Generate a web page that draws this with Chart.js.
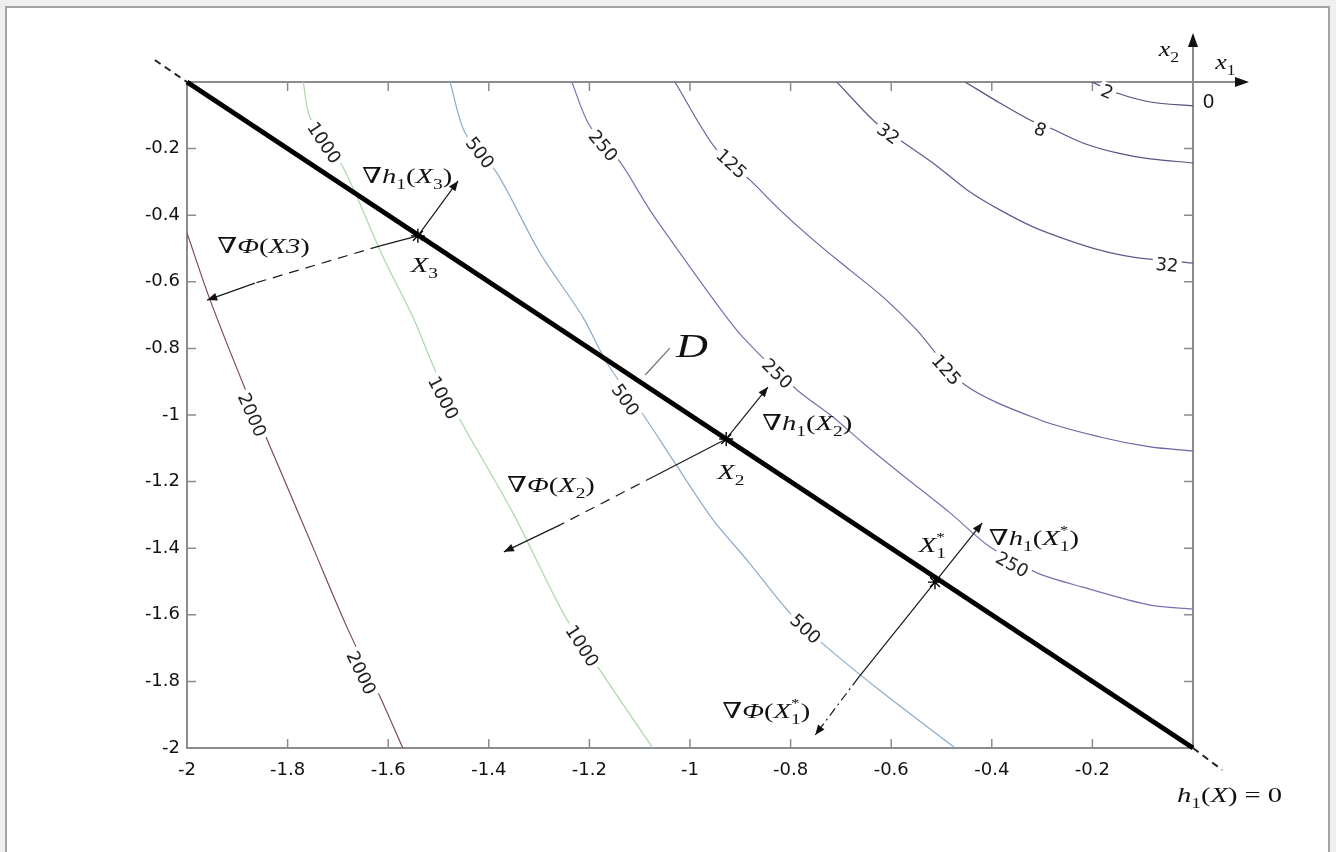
<!DOCTYPE html>
<html>
<head>
<meta charset="utf-8">
<script src="https://cdn.jsdelivr.net/npm/chart.js@4.4.1/dist/chart.umd.min.js"></script>
<style>
  html, body { margin: 0; padding: 0; background: #efefef; }
  #wrap { width: 1336px; height: 852px; }
</style>
</head>
<body>
<div id="wrap"><canvas id="chart" width="1336" height="852"></canvas></div>
<script>
// === Axis ticks ===
const XTICKS = [-2, -1.8, -1.6, -1.4, -1.2, -1, -0.8, -0.6, -0.4, -0.2];
const YTICKS = [-2, -1.8, -1.6, -1.4, -1.2, -1, -0.8, -0.6, -0.4, -0.2];

// === Contour levels and their traced paths [x1, x2] ===
const LEVELS = [2, 8, 32, 125, 250, 500, 1000, 2000];
const C2 = [[-0.201, 0], [-0.151, -0.033], [-0.085, -0.060], [0, -0.072]];
const C8 = [[-0.453, 0], [-0.384, -0.063], [-0.324, -0.114], [-0.284, -0.138], [-0.219, -0.183],
  [-0.151, -0.213], [-0.085, -0.231], [0, -0.243]];
const C32 = [[-0.708, 0], [-0.632, -0.120], [-0.577, -0.180], [-0.517, -0.243], [-0.449, -0.324],
  [-0.384, -0.384], [-0.318, -0.435], [-0.250, -0.474], [-0.185, -0.505], [-0.119, -0.526], [0, -0.544]];
const C125 = [[-1.030, 0], [-0.950, -0.198], [-0.881, -0.294], [-0.815, -0.393], [-0.748, -0.483],
  [-0.682, -0.565], [-0.616, -0.646], [-0.549, -0.745], [-0.453, -0.910], [-0.304, -1.015],
  [-0.185, -1.066], [-0.085, -1.096], [0, -1.108]];
const C250 = [[-1.235, 0], [-1.200, -0.130], [-1.139, -0.240], [-1.080, -0.384], [-1.014, -0.526],
  [-0.950, -0.660], [-0.895, -0.766], [-0.787, -0.925], [-0.716, -1.006], [-0.656, -1.084],
  [-0.583, -1.174], [-0.483, -1.294], [-0.404, -1.396], [-0.310, -1.474], [-0.219, -1.517],
  [-0.085, -1.571], [0, -1.583]];
const C500 = [[-1.477, 0], [-1.447, -0.153], [-1.384, -0.273], [-1.298, -0.514], [-1.213, -0.706],
  [-1.165, -0.844], [-1.086, -1.015], [-1.034, -1.135], [-0.954, -1.315], [-0.887, -1.435],
  [-0.801, -1.595], [-0.728, -1.697], [-0.616, -1.835], [-0.473, -2]];
const C1000 = [[-1.769, 0], [-1.755, -0.108], [-1.690, -0.255], [-1.610, -0.526], [-1.551, -0.706],
  [-1.501, -0.886], [-1.457, -1.015], [-1.352, -1.294], [-1.252, -1.595], [-1.179, -1.766], [-1.074, -2]];
const C2000 = [[-2, -0.4535], [-1.954, -0.655], [-1.881, -0.934], [-1.843, -1.066], [-1.809, -1.186],
  [-1.750, -1.396], [-1.682, -1.637], [-1.616, -1.847], [-1.571, -2]];
const CONTOURS = [C2, C8, C32, C125, C250, C500, C1000, C2000];

// contour label: [level, x1, x2]
const CLABELS = [
  [2, -0.171, -0.030], [8, -0.304, -0.144], [32, -0.606, -0.156], [32, -0.052, -0.550],
  [125, -0.918, -0.246], [125, -0.491, -0.865],
  [250, -1.173, -0.192], [250, -0.827, -0.877], [250, -0.360, -1.450],
  [500, -1.418, -0.213], [500, -1.129, -0.955], [500, -0.771, -1.643],
  [1000, -1.728, -0.183], [1000, -1.491, -0.949], [1000, -1.215, -1.694],
  [2000, -1.871, -1.0], [2000, -1.654, -1.775]
];

// === Constraint h1(X)=0, iterates and gradient vectors ===
const CONSTRAINT = [[-2, 0], [0, -2]];
const EXT_TOP = [[-2.064, 0.066], [-2, 0]];
const EXT_BOTTOM = [[0, -2], [0.058, -2.066]];
const ITERATES = [[-1.541, -0.462], [-0.928, -1.072], [-0.513, -1.502]];
const GRAD_H3 = [[-1.541, -0.462], [-1.461, -0.297]];
const GRAD_H2 = [[-0.928, -1.072], [-0.845, -0.916]];
const GRAD_H1 = [[-0.513, -1.502], [-0.419, -1.324]];
const GRAD_F3 = [[-1.541, -0.462], [-1.616, -0.492], [-1.865, -0.604], [-1.960, -0.655]];
const GRAD_F2 = [[-0.928, -1.072], [-1.070, -1.183], [-1.258, -1.330], [-1.370, -1.411]];
const GRAD_F1 = [[-0.513, -1.502], [-0.666, -1.790], [-0.751, -1.961]];
const D_LEADER = [[-1.089, -0.880], [-1.040, -0.799]];

// === Styles ===
const CONTOUR_COLORS = ['#50507c', '#555582', '#5c5c8a', '#6666a0', '#7373b0', '#8aaccb', '#a8d9a8', '#7c4a5c'];
const SANS = '"DejaVu Sans", sans-serif';
const SERIF = '"Liberation Serif", "DejaVu Serif", serif';
const AXIS_GRAY = '#8c8c8c';
const STRETCH = 1.3;

// text annotations: anchor is left/baseline in data units
const NOTES = [
  { at: [-1.652, -0.303], size: 22, t: [['∇', 'r'], ['h', 'i'], ['1', 'b'], ['(', 'r'], ['X', 'i'], ['3', 'b'], [')', 'r']] },
  { at: [-1.940, -0.514], size: 22, t: [['∇', 'r'], ['Φ', 'i'], ['(', 'r'], ['X', 'i'], ['3', 'i'], [')', 'r']] },
  { at: [-1.555, -0.571], size: 22, t: [['X', 'i'], ['3', 'b']] },
  { at: [-1.028, -0.826], size: 34, t: [['D', 'i']] },
  { at: [-0.857, -1.045], size: 22, t: [['∇', 'r'], ['h', 'i'], ['1', 'b'], ['(', 'r'], ['X', 'i'], ['2', 'b'], [')', 'r']] },
  { at: [-0.946, -1.192], size: 22, t: [['X', 'i'], ['2', 'b']] },
  { at: [-1.364, -1.231], size: 22, t: [['∇', 'r'], ['Φ', 'i'], ['(', 'r'], ['X', 'i'], ['2', 'b'], [')', 'r']] },
  { at: [-0.545, -1.411], size: 22, t: [['X', 'i'], ['1', 'b'], ['*', 'p']] },
  { at: [-0.406, -1.390], size: 22, t: [['∇', 'r'], ['h', 'i'], ['1', 'b'], ['(', 'r'], ['X', 'i'], ['1', 'b'], ['*', 'p'], [')', 'r']] },
  { at: [-0.936, -1.910], size: 22, t: [['∇', 'r'], ['Φ', 'i'], ['(', 'r'], ['X', 'i'], ['1', 'b'], ['*', 'p'], [')', 'r']] },
  { at: [-0.032, -2.162], size: 22, t: [['h', 'i'], ['1', 'b'], ['(', 'r'], ['X', 'i'], [') = 0', 'r']] },
  { at: [-0.068, 0.078], size: 20, t: [['x', 'i'], ['2', 'b']] },
  { at: [0.044, 0.039], size: 20, t: [['x', 'i'], ['1', 'b']] },
  { at: [0.020, -0.078], size: 20, t: [['0', 's']] }
];

const pts = arr => arr.map(([x, y]) => ({ x, y }));

function arrowHead(ctx, x0, y0, x1, y1, len, half) {
  const a = Math.atan2(y1 - y0, x1 - x0);
  const c = Math.cos(a), s = Math.sin(a);
  ctx.beginPath();
  ctx.moveTo(x1, y1);
  ctx.lineTo(x1 - len * c + half * s, y1 - len * s - half * c);
  ctx.lineTo(x1 - len * c - half * s, y1 - len * s + half * c);
  ctx.closePath();
  ctx.fill();
}

function drawMath(ctx, tokens, x, y, size) {
  ctx.save();
  ctx.translate(x, y);
  ctx.textBaseline = 'alphabetic';
  ctx.textAlign = 'left';
  let cx = 0, subX = null, subEnd = 0;
  tokens.forEach(([t, k]) => {
    let fs = size, dy = 0, style = '', fam = SERIF, x0 = cx, sx = STRETCH;
    if (k === 'i') style = 'italic ';
    if (k === 'b') { fs = size * 0.68; dy = size * 0.28; }
    if (k === 'p') { fs = size * 0.6; dy = -size * 0.5; if (subX !== null) x0 = subX; }
    if (k === 's') { fam = '"Liberation Sans", sans-serif'; sx = 1; }
    ctx.font = style + fs + 'px ' + fam;
    ctx.save();
    ctx.translate(x0, dy);
    ctx.scale(sx, 1);
    ctx.fillText(t, 0, 0);
    ctx.restore();
    const w = ctx.measureText(t).width * sx;
    if (k === 'b') { subX = cx; subEnd = cx + w; cx += w; }
    else if (k === 'p') { cx = Math.max(subEnd, x0 + w); subX = null; }
    else { cx += w; subX = null; }
  });
  ctx.restore();
}

// === Datasets: top-most first ===
const arrowLine = (data, dash) => ({
  data: pts(data), borderColor: '#1a1a1a', borderWidth: 1.2, pointRadius: 0, arrow: true,
  segment: dash ? { borderDash: c => (c.p0DataIndex === 1 ? dash : undefined) } : undefined
});

const datasets = [
  { data: pts(ITERATES), showLine: false, pointStyle: 'star', pointRadius: 7,
    pointBorderWidth: 1.4, pointBorderColor: '#000', pointBackgroundColor: '#000' },
  arrowLine(GRAD_H3), arrowLine(GRAD_H2), arrowLine(GRAD_H1),
  arrowLine(GRAD_F3, [10, 7]), arrowLine(GRAD_F2, [10, 7]), arrowLine(GRAD_F1, [9, 4, 2, 4]),
  { data: pts(CONSTRAINT), borderColor: '#000', borderWidth: 5, pointRadius: 0, clip: false },
  { data: pts(EXT_TOP), borderColor: '#222', borderWidth: 2, borderDash: [7, 5], pointRadius: 0, clip: false },
  { data: pts(EXT_BOTTOM), borderColor: '#222', borderWidth: 2, borderDash: [7, 5], pointRadius: 0, clip: false },
  { data: pts(D_LEADER), borderColor: '#777', borderWidth: 1.3, pointRadius: 0 }
];
const CONTOUR_START = datasets.length;
CONTOURS.forEach((c, i) => datasets.push({
  data: pts(c), borderColor: CONTOUR_COLORS[i], borderWidth: 1.2, pointRadius: 0, tension: 0.3
}));

const decor = {
  id: 'decor',
  beforeDraw(chart) {
    const ctx = chart.ctx;
    ctx.save();
    ctx.fillStyle = '#efefef';
    ctx.fillRect(0, 0, chart.width, chart.height);
    ctx.fillStyle = '#ffffff';
    ctx.fillRect(6, 7, 1323, 860);
    ctx.strokeStyle = '#a3a3a3';
    ctx.lineWidth = 2;
    ctx.strokeRect(6, 7, 1323, 860);
    ctx.restore();
  },
  beforeDatasetsDraw(chart) {
    const { ctx, chartArea: a, scales: { x, y } } = chart;
    ctx.save();
    ctx.strokeStyle = AXIS_GRAY;
    ctx.lineWidth = 2;
    ctx.beginPath();
    ctx.moveTo(a.left, a.top); ctx.lineTo(a.left, a.bottom); ctx.lineTo(a.right, a.bottom);
    ctx.moveTo(a.left, a.top); ctx.lineTo(a.right + 54, a.top);
    ctx.moveTo(a.right, a.bottom); ctx.lineTo(a.right, a.top - 47);
    ctx.stroke();
    ctx.lineWidth = 1.5;
    ctx.beginPath();
    XTICKS.forEach(v => {
      const px = x.getPixelForValue(v);
      ctx.moveTo(px, a.bottom); ctx.lineTo(px, a.bottom - 9);
      ctx.moveTo(px, a.top); ctx.lineTo(px, a.top + 9);
    });
    YTICKS.forEach(v => {
      const py = y.getPixelForValue(v);
      ctx.moveTo(a.left, py); ctx.lineTo(a.left + 9, py);
      ctx.moveTo(a.right, py); ctx.lineTo(a.right - 9, py);
    });
    ctx.stroke();
    ctx.fillStyle = '#111';
    arrowHead(ctx, a.right, a.top, a.right + 56, a.top, 14, 5);
    arrowHead(ctx, a.right, a.top, a.right, a.top - 49, 14, 5);
    ctx.restore();
  },
  afterDatasetDraw(chart, args) {
    if (args.index !== CONTOUR_START) return;
    const { ctx, scales: { x, y } } = chart;
    ctx.save();
    ctx.font = '18px ' + SANS;
    ctx.textAlign = 'center';
    ctx.textBaseline = 'middle';
    CLABELS.forEach(([lvl, lx, ly]) => {
      const px = x.getPixelForValue(lx), py = y.getPixelForValue(ly);
      const meta = chart.getDatasetMeta(CONTOUR_START + LEVELS.indexOf(lvl));
      let best = Infinity, ang = 0;
      for (let i = 1; i < meta.data.length; i++) {
        const p = meta.data[i - 1], q = meta.data[i];
        const dx = q.x - p.x, dy = q.y - p.y;
        const t = Math.max(0, Math.min(1, ((px - p.x) * dx + (py - p.y) * dy) / (dx * dx + dy * dy)));
        const d = Math.hypot(p.x + t * dx - px, p.y + t * dy - py);
        if (d < best) { best = d; ang = Math.atan2(dy, dx); }
      }
      if (ang > Math.PI / 2) ang -= Math.PI;
      if (ang < -Math.PI / 2) ang += Math.PI;
      const label = String(lvl);
      const w = ctx.measureText(label).width;
      ctx.save();
      ctx.translate(px, py);
      ctx.rotate(ang);
      ctx.fillStyle = '#ffffff';
      ctx.fillRect(-w / 2 - 3, -9, w + 6, 18);
      ctx.fillStyle = '#222';
      ctx.fillText(label, 0, 1);
      ctx.restore();
    });
    ctx.restore();
  },
  afterDatasetsDraw(chart) {
    const { ctx, scales: { x, y } } = chart;
    ctx.save();
    ctx.fillStyle = '#111';
    chart.data.datasets.forEach((ds, i) => {
      if (!ds.arrow) return;
      const d = chart.getDatasetMeta(i).data;
      const p = d[d.length - 2], q = d[d.length - 1];
      arrowHead(ctx, p.x, p.y, q.x, q.y, 10, 4);
    });
    NOTES.forEach(n => {
      drawMath(ctx, n.t, x.getPixelForValue(n.at[0]), y.getPixelForValue(n.at[1]), n.size);
    });
    ctx.restore();
  }
};

const tickFont = { family: SANS, size: 18 };

new Chart(document.getElementById('chart'), {
  type: 'line',
  data: { datasets },
  options: {
    responsive: false,
    animation: false,
    layout: { padding: { top: 82, right: 143, left: 0, bottom: 0 } },
    plugins: { legend: { display: false }, tooltip: { enabled: false } },
    scales: {
      x: {
        type: 'linear', min: -2, max: 0,
        grid: { display: false, drawTicks: false },
        border: { display: false },
        ticks: { font: tickFont, color: '#111', padding: 12, maxRotation: 0, autoSkip: false, callback: v => String(v) },
        afterBuildTicks: s => { s.ticks = XTICKS.map(v => ({ value: v })); },
        afterFit: s => { s.height = 104; }
      },
      y: {
        type: 'linear', min: -2, max: 0,
        grid: { display: false, drawTicks: false },
        border: { display: false },
        ticks: { font: tickFont, color: '#111', padding: 7, autoSkip: false, callback: v => String(v) },
        afterBuildTicks: s => { s.ticks = YTICKS.map(v => ({ value: v })); },
        afterFit: s => { s.width = 187; }
      }
    }
  },
  plugins: [decor]
});
</script>
</body>
</html>
